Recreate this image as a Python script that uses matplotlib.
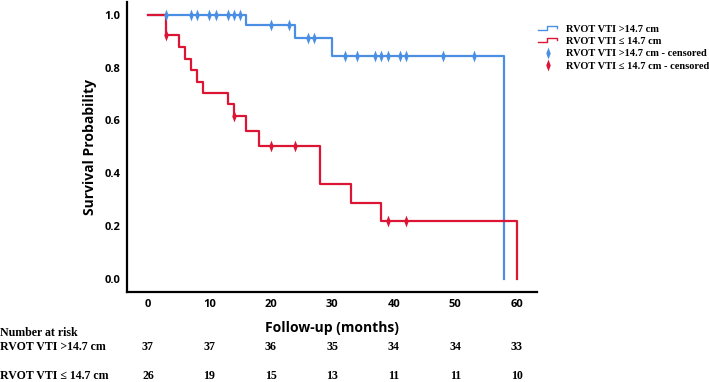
import matplotlib as mpl
mpl.use('Agg')
import matplotlib.pyplot as plt
import numpy as np
from matplotlib.lines import Line2D
from matplotlib.legend_handler import HandlerBase
from matplotlib.path import Path
import matplotlib.transforms as mtransforms

# Kaplan-Meier step points (time in months, survival probability)
high_t = [0, 16, 24, 30, 58]
high_s = [1.0, 0.96, 0.91, 0.845, 0.0]
high_cens = [3, 7, 8, 10, 11, 13, 14, 15, 20, 23, 26, 27,
             32, 34, 37, 38, 39, 41, 42, 48, 53]

low_t = [0, 3, 5, 6, 7, 8, 9, 13, 14, 16, 18, 28, 33, 38, 60]
low_s = [1.0, 0.923, 0.876, 0.833, 0.791, 0.746, 0.705, 0.66, 0.616,
         0.559, 0.503, 0.36, 0.288, 0.217, 0.0]
low_cens = [3, 14, 20, 24, 39, 42]

# number at risk table
risk_times = [0, 10, 20, 30, 40, 50, 60]
risk_high = [37, 37, 36, 35, 34, 34, 33]
risk_low = [26, 19, 15, 13, 11, 11, 10]

lab_high = 'RVOT VTI >14.7 cm'
lab_low = 'RVOT VTI \u2264 14.7 cm'

blue = '#4a8fe3'
red = '#dc1535'
sans = 'Open Sans'
serif = 'Liberation Serif'

# thin vertical diamond used for censor ticks
thin_diamond = Path([(0, 1), (0.38, 0), (0, -1), (-0.38, 0), (0, 1)],
                    [Path.MOVETO, Path.LINETO, Path.LINETO, Path.LINETO, Path.CLOSEPOLY])


def surv_at(t, s, x):
    idx = np.searchsorted(t, x, side='right') - 1
    return np.asarray(s)[idx]


class StepHandler(HandlerBase):
    def create_artists(self, legend, orig, xd, yd, w, h, fs, trans):
        xs = [xd, xd + 0.45 * w, xd + 0.45 * w, xd + w, xd + w]
        ys = [yd + 0.25 * h, yd + 0.25 * h, yd + 0.8 * h, yd + 0.8 * h, yd + 0.5 * h]
        ln = Line2D(xs, ys, color=orig.get_color(), lw=1.0, transform=trans)
        return [ln]


fig = plt.figure(figsize=(7.09, 3.82), dpi=100)
ax = fig.add_axes([127 / 709, 1 - 292 / 382, 410 / 709, 290 / 382])

l1, = ax.step(high_t, high_s, where='post', color=blue, lw=1.6, zorder=2)
l2, = ax.step(low_t, low_s, where='post', color=red, lw=1.6, zorder=3)
m1, = ax.plot(high_cens, surv_at(high_t, high_s, high_cens), ls='none',
              marker=thin_diamond, ms=8.5, mew=0, color=blue, zorder=4)
m2, = ax.plot(low_cens, surv_at(low_t, low_s, low_cens), ls='none',
              marker=thin_diamond, ms=8.5, mew=0, color=red, zorder=5)

ax.set_xlim(-3.4, 63.3)
ax.set_ylim(-0.05, 1.048)
ax.set_xticks(risk_times)
ax.set_yticks([0.0, 0.2, 0.4, 0.6, 0.8, 1.0])
ax.set_yticklabels(['0.0', '0.2', '0.4', '0.6', '0.8', '1.0'])
ax.tick_params(length=0, pad=5, labelsize=8)
for lab in ax.get_xticklabels() + ax.get_yticklabels():
    lab.set_fontfamily(sans)
    lab.set_fontweight('bold')
for sp in ['top', 'right']:
    ax.spines[sp].set_visible(False)
for sp in ['left', 'bottom']:
    ax.spines[sp].set_linewidth(1.6)

ax.set_xlabel('Follow-up (months)', fontfamily=sans, fontweight='bold',
              fontsize=10, labelpad=8)
ax.set_ylabel('Survival Probability', fontfamily=sans, fontweight='bold',
              fontsize=10, labelpad=5)

leg = fig.legend([l1, l2, m1, m2],
                 [lab_high, lab_low, lab_high + ' - censored', lab_low + ' - censored'],
                 handler_map={l1: StepHandler(), l2: StepHandler()},
                 loc='upper left', bbox_to_anchor=(533 / 709, 1 - 19 / 382),
                 frameon=False, handlelength=1.8, handletextpad=0.9,
                 labelspacing=0.3, borderpad=0,
                 prop={'family': serif, 'weight': 'bold', 'size': 7.5})

# number at risk table
tf = dict(family=serif, weight='bold', fontsize=8.6, va='center')
fig.text(0.0, 1 - 333 / 382, 'Number at risk', ha='left', **tf)
fig.text(0.0, 1 - 347 / 382, lab_high, ha='left', **tf)
fig.text(0.0, 1 - 376 / 382, lab_low, ha='left', **tf)
blend = mtransforms.blended_transform_factory(ax.transData, fig.transFigure)
for t, a, b in zip(risk_times, risk_high, risk_low):
    ax.text(t, 1 - 347 / 382, str(a), transform=blend, ha='center', **tf)
    ax.text(t, 1 - 376 / 382, str(b), transform=blend, ha='center', **tf)

fig.savefig('out.png', dpi=100)
